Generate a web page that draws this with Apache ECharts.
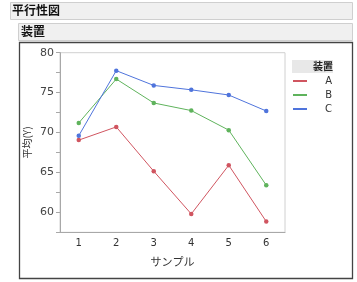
<!DOCTYPE html>
<html><head><meta charset="utf-8">
<script src="https://cdn.jsdelivr.net/npm/echarts@6/dist/echarts.min.js"></script>
<style>html,body{margin:0;padding:0;background:#fff}#c{width:357px;height:282px}</style>
</head><body><div id="c"></div>
<script>
const categories = ['1','2','3','4','5','6'];
const seriesNames = ['A','B','C'];
const valuesA = [69.05, 70.7, 65.15, 59.8, 65.9, 58.85];
const valuesB = [71.2, 76.7, 73.7, 72.75, 70.3, 63.4];
const valuesC = [69.6, 77.75, 75.9, 75.35, 74.7, 72.7];
const colors = ['#d05560', '#5fb35c', '#4f74dc'];
const jp = '"Noto Sans CJK JP", sans-serif';
const num = '"DejaVu Sans", sans-serif';

const chart = echarts.init(document.getElementById('c'));
const data = [valuesA, valuesB, valuesC];
chart.setOption({
  animation: false,
  graphic: [
    {type:'rect', shape:{x:10.5,y:2.5,width:342,height:17}, style:{fill:'#f0f0f0', stroke:'#cfcfcf', lineWidth:1}},
    {type:'text', left:12, top:4, style:{text:'平行性図', font:'bold 12px '+jp, fill:'#111'}},
    {type:'rect', shape:{x:18.5,y:23.5,width:334,height:17}, style:{fill:'#f0f0f0', stroke:'#cfcfcf', lineWidth:1}},
    {type:'text', left:21, top:25, style:{text:'装置', font:'bold 12px '+jp, fill:'#111'}},
    {type:'rect', shape:{x:19.5,y:42.5,width:333,height:236}, style:{fill:'none', stroke:'#444', lineWidth:1.3}},
    {type:'rect', shape:{x:292,y:60,width:41,height:13}, style:{fill:'#e8e8e8'}},
    {type:'text', x:323, y:66.5, style:{text:'装置', font:'bold 10px '+jp, fill:'#222', align:'center', verticalAlign:'middle'}}
  ],
  grid: {left:60, top:52.7, right:72, bottom:49.7, show:true, borderColor:'#d0d0d0', borderWidth:1},
  legend: {
    orient:'vertical', left:293, top:75, padding:0, itemWidth:14, itemHeight:2, itemGap:2, icon:'rect',
    data: seriesNames,
    textStyle: {fontFamily:num, fontSize:10, color:'#333', lineHeight:12,
      rich:{r:{width:20, align:'right'}}},
    formatter: n => '{r|' + n + '}',
    selectedMode:false
  },
  xAxis: {
    type:'category', data:categories, boundaryGap:true,
    name:'サンプル', nameLocation:'middle', nameGap:24, nameMoveOverlap:false,
    nameTextStyle:{fontFamily:jp, fontSize:11, color:'#333'},
    axisLine:{lineStyle:{color:'#a8a8a8'}},
    axisTick:{show:false},
    axisLabel:{fontFamily:num, fontSize:10, color:'#333', margin:6}
  },
  yAxis: {
    type:'value', min:57.5, max:80, interval:2.5,
    name:'平均(Y)', nameLocation:'middle', nameGap:28, nameRotate:90, nameMoveOverlap:false,
    nameTextStyle:{fontFamily:jp, fontSize:10, color:'#333'},
    axisLine:{show:true, lineStyle:{color:'#a8a8a8'}},
    axisTick:{show:true, length:4, lineStyle:{color:'#a8a8a8'}},
    splitLine:{show:false},
    axisLabel:{fontFamily:num, fontSize:11, color:'#444', margin:6,
      formatter: v => (Math.abs(v % 5) < 1e-6 ? String(v) : '')}
  },
  series: seriesNames.map((n,i) => ({
    name:n, type:'line', data:data[i], color:colors[i],
    symbol:'circle', symbolSize:4.5, lineStyle:{width:1},
    itemStyle:{color:colors[i]}
  }))
});
</script></body></html>
